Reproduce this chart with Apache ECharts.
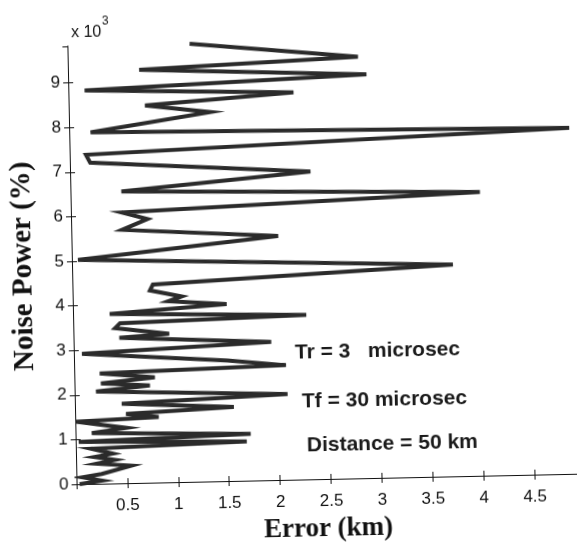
<!DOCTYPE html>
<html>
<head>
<meta charset="utf-8">
<script src="https://cdn.jsdelivr.net/npm/echarts@6/dist/echarts.min.js"></script>
<style>
  html, body { margin: 0; padding: 0; background: #fff; overflow: hidden; }
  /* the printed figure sits slightly askew on the page */
  #chart { width: 577px; height: 548px; transform: rotate(-1.2deg); transform-origin: 324px 263px; }
</style>
</head>
<body>
<div id="chart"></div>
<script>
// Noise power (%) levels, bottom to top, and the location error (km) at each level
const noisePower = [
  0, 70, 150, 220, 390, 450, 530, 600, 670, 790,
  880, 950, 1050, 1140, 1240, 1400, 1470, 1550, 1660, 1780,
  1920, 2070, 2180, 2250, 2360, 2470, 2570, 2700, 2920, 3100,
  3260, 3330, 3480, 3590, 3690, 3800, 3970, 4060, 4160, 4310,
  4440, 4750, 5030, 5470, 5680, 5910, 6070, 6360, 6540, 6900,
  7200, 7380, 7760, 7880, 8280, 8460, 8680, 8820, 9050, 9260,
  9450, 9820
];
const errorKm = [
  0.03, 0.25, 0.06, 0.25, 0.54, 0.20, 0.38, 0.18, 0.36, 0.15,
  1.68, 0.03, 1.72, 0.16, 0.50, 0.01, 0.82, 0.50, 1.56, 0.46,
  2.09, 0.21, 0.74, 0.26, 0.79, 0.25, 2.08, 1.51, 0.08, 1.94,
  0.45, 0.94, 0.41, 0.46, 2.29, 0.36, 1.51, 0.94, 1.07, 0.76,
  0.79, 3.74, 0.06, 2.03, 0.50, 0.75, 0.50, 4.02, 0.50, 2.36,
  0.20, 0.16, 4.91, 0.21, 1.39, 0.75, 2.21, 0.16, 2.93, 0.70,
  2.85, 1.20
];
const notes = ['Tr = 3   microsec', 'Tf = 30 microsec', 'Distance = 50 km'];

const X_MAX = 4.93, Y_MAX = 9820;
const tickFont = { fontFamily: '"Liberation Sans", Arial, sans-serif', fontSize: 17, color: '#111' };
const nameFont = { fontFamily: '"Liberation Serif", "Times New Roman", serif', fontWeight: 'bold', fontSize: 27, color: '#111' };
const axisLineStyle = { show: true, lineStyle: { color: '#111', width: 1 } };
const inTick = { show: true, inside: true, length: 5, lineStyle: { color: '#111', width: 1 } };
const noteFont = 'bold 21px "Liberation Sans", Arial, sans-serif';

const chart = echarts.init(document.getElementById('chart'), null, { renderer: 'canvas' });
chart.setOption({
  backgroundColor: '#fff',
  animation: false,
  grid: { left: 72, right: 3, top: 41, bottom: 63 },
  xAxis: [
    {
      type: 'value', min: 0, max: X_MAX, interval: 0.5, position: 'bottom',
      axisLine: axisLineStyle, axisTick: inTick, splitLine: { show: false },
      axisLabel: Object.assign({ margin: 14, showMinLabel: false, showMaxLabel: false,
        formatter: v => (v > X_MAX - 0.01 ? '' : String(v)) }, tickFont),
      name: 'Error (km)', nameLocation: 'middle', nameGap: 37,
      nameTextStyle: nameFont
    },
    {
      type: 'value', min: 0, max: X_MAX, interval: 0.5, position: 'top',
      axisLine: axisLineStyle, axisTick: inTick, splitLine: { show: false },
      axisLabel: { show: false }
    }
  ],
  yAxis: [
    {
      type: 'value', min: 0, max: Y_MAX, interval: 1000, position: 'left',
      axisLine: axisLineStyle, axisTick: inTick, splitLine: { show: false },
      axisLabel: Object.assign({ margin: 8, showMaxLabel: false,
        formatter: v => (v > Y_MAX - 10 ? '' : String(v / 1000)) }, tickFont),
      name: 'Noise Power (%)', nameLocation: 'middle', nameGap: 34, nameRotate: 90,
      nameTextStyle: Object.assign({}, nameFont, { fontSize: 29 })
    },
    {
      type: 'value', min: 0, max: Y_MAX, interval: 1000, position: 'right',
      axisLine: axisLineStyle, axisTick: inTick, splitLine: { show: false },
      axisLabel: { show: false }
    }
  ],
  series: [{
    type: 'line',
    xAxisIndex: 0, yAxisIndex: 0,
    data: noisePower.map((p, i) => [errorKm[i], p]),
    symbol: 'none',
    lineStyle: { color: '#2b2b2b', width: 4, join: 'miter' },
    clip: true
  }],
  graphic: [
    { type: 'text', left: 76, top: 20, style: { text: 'x 10', font: '16px "Liberation Sans", Arial, sans-serif', fill: '#111' } },
    { type: 'text', left: 107, top: 11, style: { text: '3', font: '12px "Liberation Sans", Arial, sans-serif', fill: '#111' } },
    { type: 'text', left: 293, top: 342, style: { text: notes[0], font: noteFont, fill: '#1a1a1a' } },
    { type: 'text', left: 299, top: 391, style: { text: notes[1], font: noteFont, fill: '#1a1a1a' } },
    { type: 'text', left: 303, top: 435, style: { text: notes[2], font: noteFont, fill: '#1a1a1a' } }
  ]
});
</script>
</body>
</html>
